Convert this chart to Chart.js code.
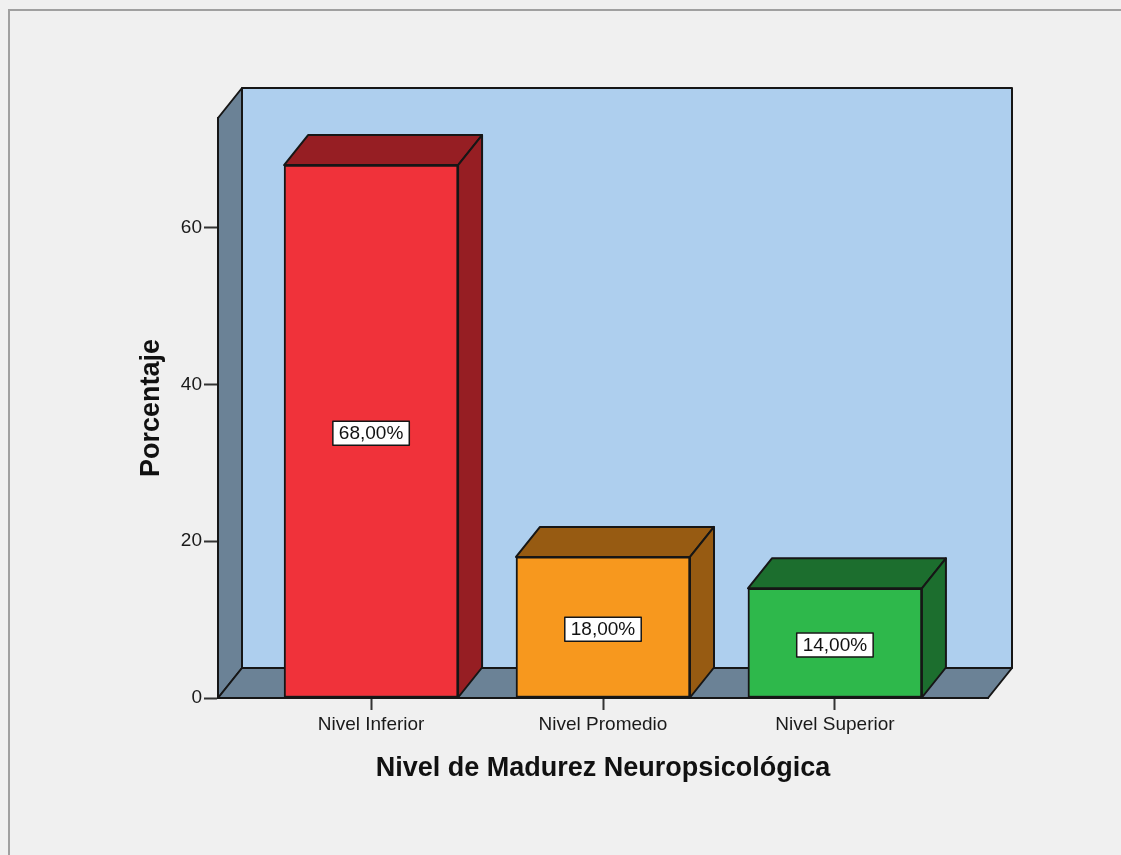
<!DOCTYPE html>
<html>
<head>
<meta charset="utf-8">
<script src="https://cdn.jsdelivr.net/npm/chart.js@4.4.1/dist/chart.umd.min.js"></script>
<style>
  html, body { margin: 0; padding: 0; background: #f0f0f0; }
  #chart { display: block; }
</style>
</head>
<body>
<canvas id="chart" width="1121" height="855"></canvas>
<script>
'use strict';

// data
var categories  = ['Nivel Inferior', 'Nivel Promedio', 'Nivel Superior'];
var percentages = [68, 18, 14];
var valueLabels = ['68,00%', '18,00%', '14,00%'];
var yTicks      = [0, 20, 40, 60];

// styles
var frontColors = ['#f0323a', '#f7981e', '#2eb84b'];
var darkColors  = ['#961e23', '#975b12', '#1c6e2e'];
var wallColor   = '#aecfee';
var sideColor   = '#6b8296';
var edgeColor   = '#161616';
var FONT        = "'Liberation Sans', Arial, sans-serif";

// depth of the fake 3D box
var DX = 24, DY = -30;

function poly(ctx, pts, fill) {
    ctx.beginPath();
    ctx.moveTo(pts[0][0], pts[0][1]);
    for (var i = 1; i < pts.length; i++) ctx.lineTo(pts[i][0], pts[i][1]);
    ctx.closePath();
    ctx.fillStyle = fill;
    ctx.fill();
    ctx.stroke();
}

// walls + floor behind everything, bar tops/sides + value boxes on top
var boxPlugin = {
    id: 'box3d',
    beforeDraw: function (chart) {
        var ctx = chart.ctx, a = chart.chartArea;
        ctx.save();
        ctx.fillStyle = '#f0f0f0';
        ctx.fillRect(0, 0, chart.width, chart.height);

        // outer frame
        ctx.strokeStyle = '#a0a0a0';
        ctx.lineWidth = 2;
        ctx.beginPath();
        ctx.moveTo(9, chart.height);
        ctx.lineTo(9, 10);
        ctx.lineTo(chart.width, 10);
        ctx.stroke();

        ctx.strokeStyle = edgeColor;
        ctx.lineWidth = 2;
        ctx.lineJoin = 'round';
        // back wall
        poly(ctx, [[a.left + DX, a.top + DY], [a.right + DX, a.top + DY],
                   [a.right + DX, a.bottom + DY], [a.left + DX, a.bottom + DY]], wallColor);
        // left side wall
        poly(ctx, [[a.left, a.bottom], [a.left, a.top], [a.left + DX, a.top + DY],
                   [a.left + DX, a.bottom + DY]], sideColor);
        // floor
        poly(ctx, [[a.left, a.bottom], [a.right, a.bottom], [a.right + DX, a.bottom + DY],
                   [a.left + DX, a.bottom + DY]], sideColor);
        ctx.restore();
    },
    afterDatasetsDraw: function (chart) {
        var ctx = chart.ctx;
        var meta = chart.getDatasetMeta(0);
        ctx.save();
        ctx.strokeStyle = edgeColor;
        ctx.lineWidth = 2;
        ctx.lineJoin = 'round';
        meta.data.forEach(function (bar, i) {
            var p = bar.getProps(['x', 'y', 'base', 'width'], true);
            var x1 = p.x - p.width / 2, x2 = p.x + p.width / 2;
            // top face
            poly(ctx, [[x1, p.y], [x2, p.y], [x2 + DX, p.y + DY], [x1 + DX, p.y + DY]], darkColors[i]);
            // right face
            poly(ctx, [[x2, p.y], [x2 + DX, p.y + DY], [x2 + DX, p.base + DY], [x2, p.base]], darkColors[i]);

            // value label box
            var cy = (p.y + p.base) / 2 + 2;
            ctx.font = '19px ' + FONT;
            var tw = ctx.measureText(valueLabels[i]).width;
            var bw = tw + 12, bh = 24;
            ctx.fillStyle = '#ffffff';
            ctx.fillRect(p.x - bw / 2, cy - bh / 2, bw, bh);
            ctx.lineWidth = 1.5;
            ctx.strokeRect(p.x - bw / 2, cy - bh / 2, bw, bh);
            ctx.lineWidth = 2;
            ctx.fillStyle = '#111111';
            ctx.textAlign = 'center';
            ctx.textBaseline = 'middle';
            ctx.fillText(valueLabels[i], p.x, cy + 1);
        });
        ctx.restore();
    }
};

new Chart(document.getElementById('chart'), {
    type: 'bar',
    data: {
        datasets: [{
            data: percentages.map(function (v, i) { return { x: i, y: v }; }),
            backgroundColor: frontColors,
            borderColor: edgeColor,
            borderWidth: 2,
            borderSkipped: false,
            barThickness: 174
        }]
    },
    plugins: [boxPlugin],
    options: {
        responsive: false,
        animation: false,
        layout: { padding: { left: 0, right: 133, top: 118, bottom: 0 } },
        plugins: {
            legend: { display: false },
            tooltip: { enabled: false }
        },
        scales: {
            x: {
                type: 'linear',
                min: -0.66,
                max: 2.66,
                offset: false,
                afterBuildTicks: function (scale) {
                    scale.ticks = categories.map(function (c, i) { return { value: i }; });
                },
                afterFit: function (scale) { scale.height = 157; },
                ticks: {
                    callback: function (v) { return categories[v]; },
                    color: '#1a1a1a',
                    font: { family: FONT, size: 19 },
                    padding: 3,
                    maxRotation: 0,
                    autoSkip: false
                },
                grid: {
                    offset: false,
                    drawOnChartArea: false,
                    drawTicks: true,
                    tickLength: 12,
                    color: '#333333',
                    tickWidth: 2
                },
                border: { display: true, color: edgeColor, width: 2 },
                title: {
                    display: true,
                    text: 'Nivel de Madurez Neuropsicológica',
                    color: '#111111',
                    font: { family: FONT, size: 27, weight: 'bold' },
                    padding: { top: 0, bottom: 70 }
                }
            },
            y: {
                min: 0,
                max: 74,
                afterBuildTicks: function (scale) {
                    scale.ticks = yTicks.map(function (v) { return { value: v }; });
                },
                afterFit: function (scale) { scale.width = 218; },
                ticks: {
                    color: '#1a1a1a',
                    font: { family: FONT, size: 19 },
                    padding: 2
                },
                grid: {
                    drawOnChartArea: false,
                    drawTicks: true,
                    tickLength: 14,
                    color: '#333333',
                    tickWidth: 2
                },
                border: { display: true, color: edgeColor, width: 2 },
                title: {
                    display: true,
                    text: 'Porcentaje',
                    color: '#111111',
                    font: { family: FONT, size: 27, weight: 'bold' },
                    padding: { top: 135, bottom: 0 }
                }
            }
        }
    }
});
</script>
</body>
</html>
